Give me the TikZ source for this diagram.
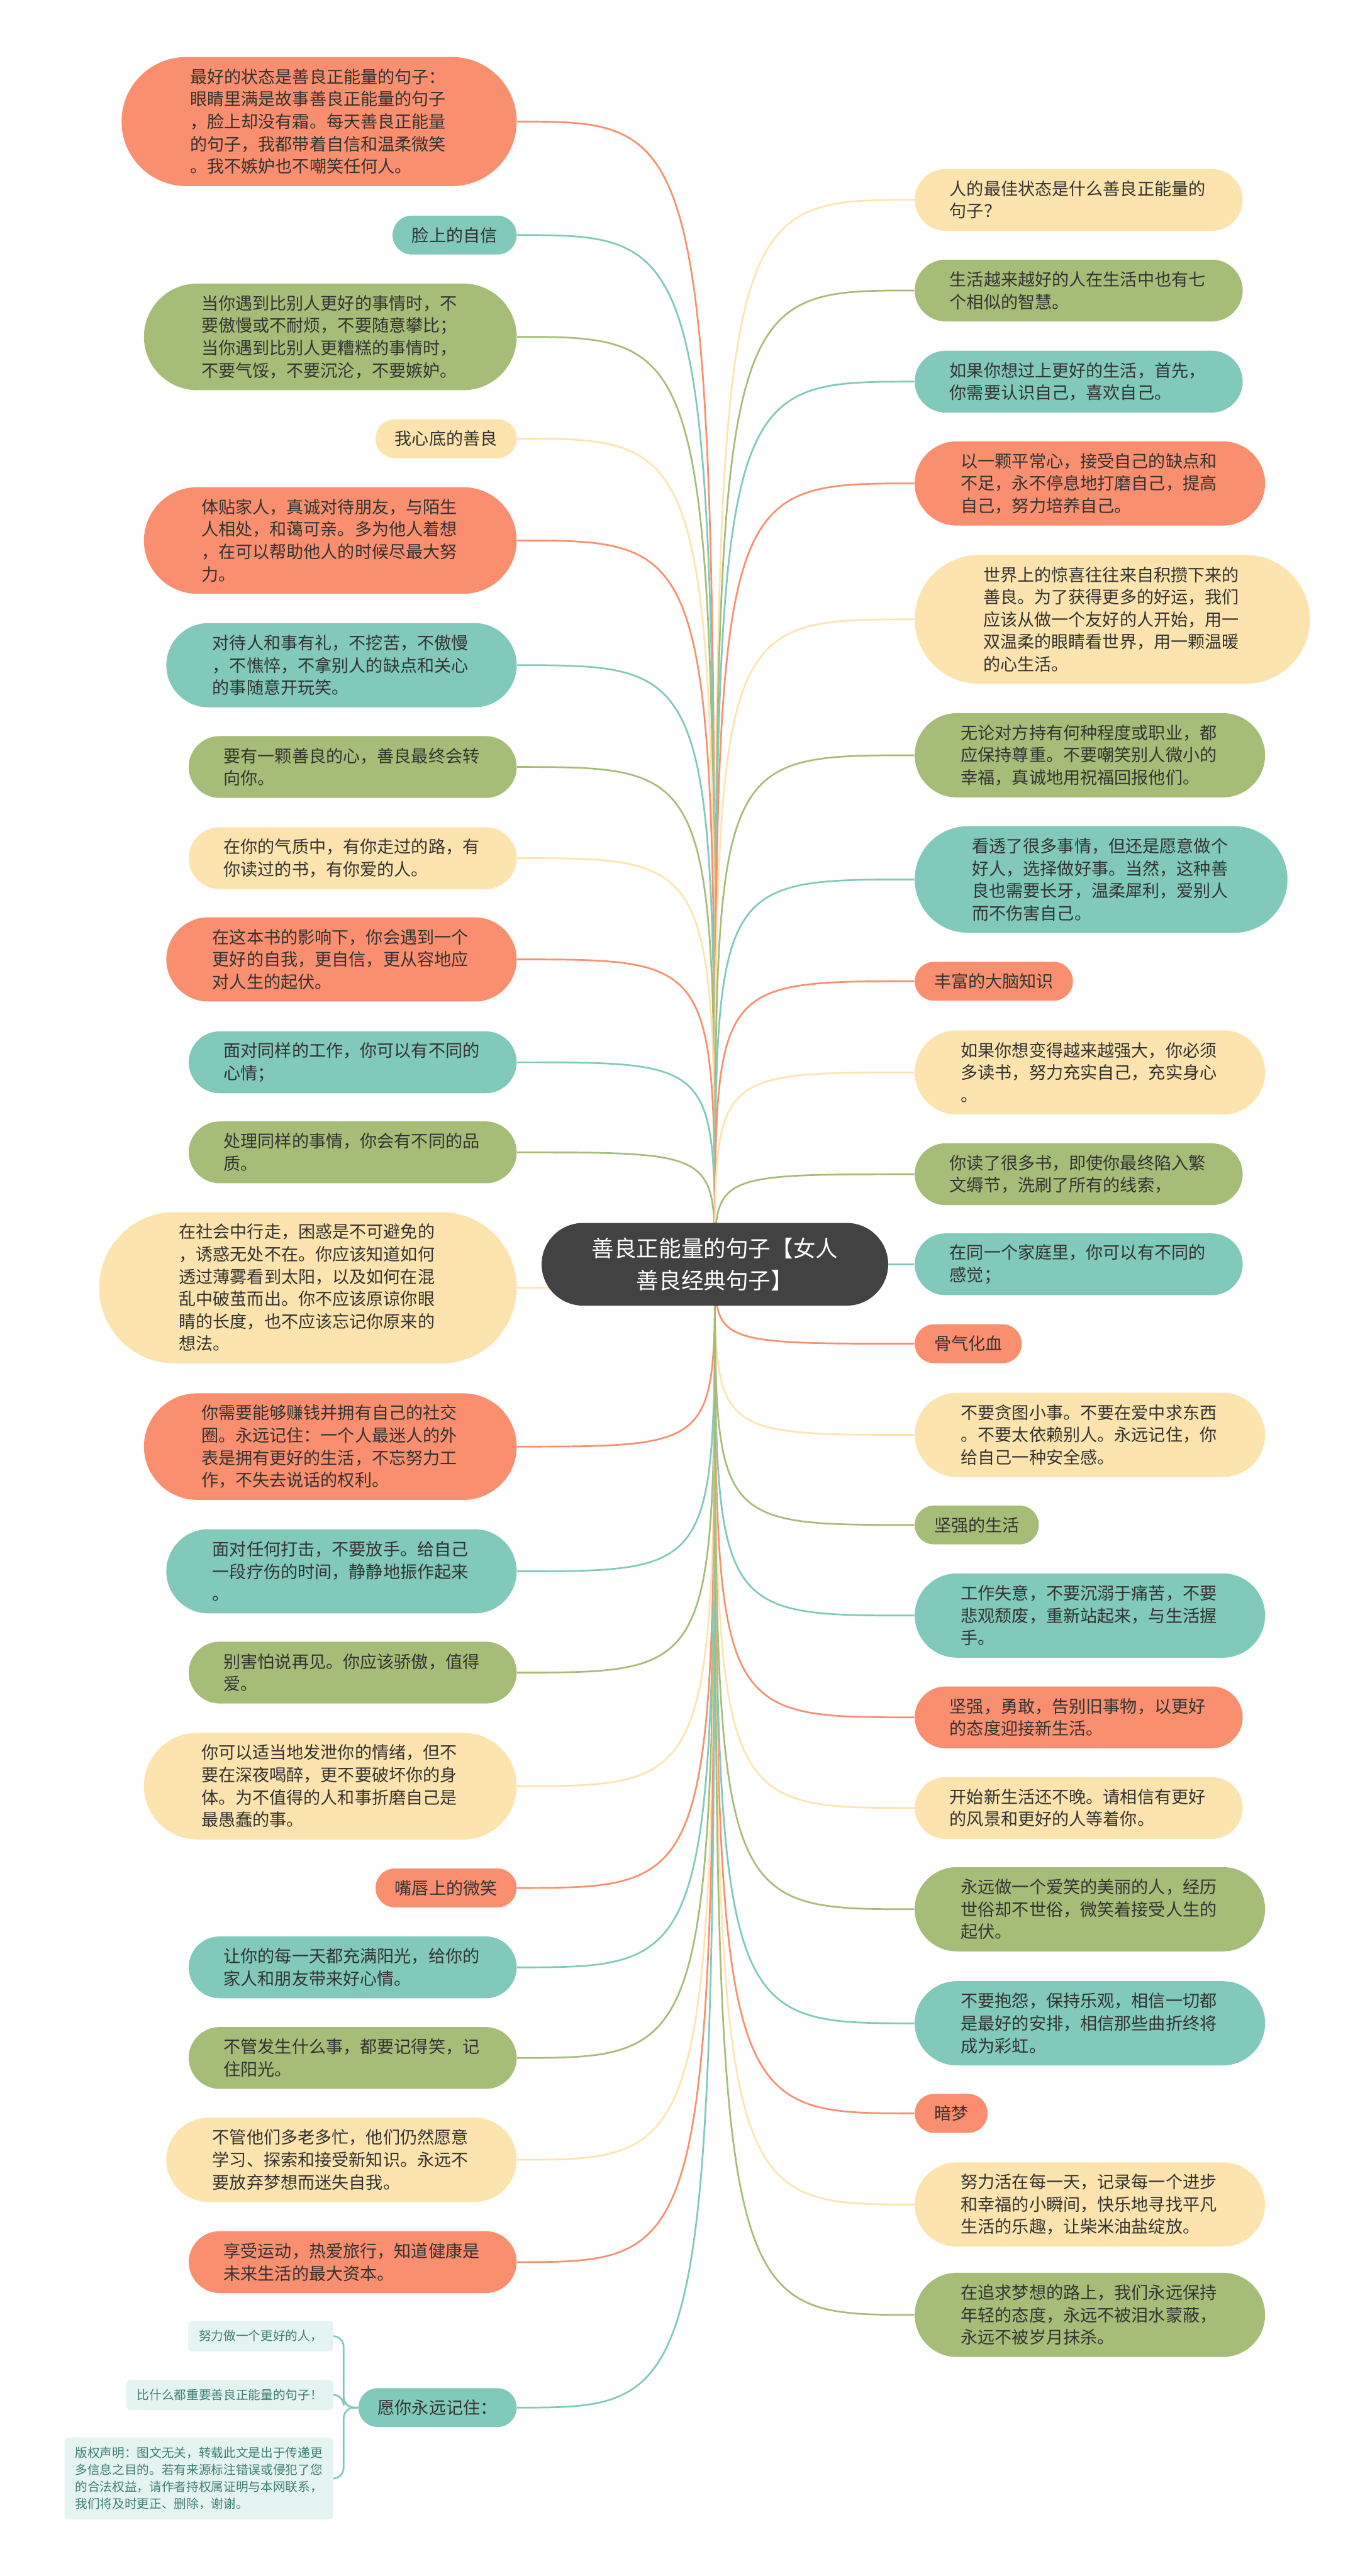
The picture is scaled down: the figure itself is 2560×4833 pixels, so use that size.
\documentclass[tikz,border=0pt]{standalone}
\usepackage{fontspec}
\setmainfont{Noto Sans CJK SC}
\usetikzlibrary{backgrounds}

\definecolor{cOrange}{HTML}{F98F6F}
\definecolor{cGreen}{HTML}{A6BD78}
\definecolor{cTeal}{HTML}{80C9BB}
\definecolor{cYellow}{HTML}{FDE4AE}
\definecolor{cHub}{HTML}{424242}
\definecolor{cNote}{HTML}{E4F4F1}
\definecolor{cNoteText}{HTML}{3E7F75}
\definecolor{cInk}{HTML}{333333}

\begin{document}
\begin{tikzpicture}[
    x=0.25pt, y=-0.25pt,
    every node/.style={font=\fontsize{8pt}{10.5pt}\selectfont, text=cInk},
    leaf/.style 2 args={rectangle, fill=#1, align=left, text width=121pt, inner ysep=0pt,
                 minimum height=#2*10.5pt+8pt, rounded corners=#2*5.25pt+4pt,
                 inner xsep=#2*5.25pt+5.9pt},
    topic/.style={rectangle, fill=#1, inner ysep=0pt, minimum height=18.25pt,
                  rounded corners=9.1pt, inner xsep=9.1pt},
    hub/.style={rectangle, fill=cHub, text=white, align=center,
                font=\fontsize{10.5pt}{15pt}\selectfont, inner ysep=0pt,
                minimum height=38.75pt, rounded corners=19.4pt, inner xsep=23.5pt},
    note/.style={rectangle, rounded corners=2pt, fill=cNote, text=cNoteText, align=left,
                 font=\fontsize{5.8pt}{8pt}\selectfont, inner xsep=5pt, inner ysep=4.4pt},
    wire/.style={draw=#1, line width=0.8pt}
]
\useasboundingbox (0,0) rectangle (2560,4833);

% centre
\node[hub] (hub) at (1341,2372) {善良正能量的句子【女人\\善良经典句子】};

% left side
\node[leaf={cOrange}{5}, anchor=east] (l1) at (970,228) {最好的状态是善良正能量的句子：\\眼睛里满是故事善良正能量的句子\\，脸上却没有霜。每天善良正能量\\的句子，我都带着自信和温柔微笑\\。我不嫉妒也不嘲笑任何人。};
\node[topic=cTeal, anchor=east] (l2) at (970,441) {脸上的自信};
\node[leaf={cGreen}{4}, anchor=east] (l3) at (970,632) {当你遇到比别人更好的事情时，不\\要傲慢或不耐烦，不要随意攀比；\\当你遇到比别人更糟糕的事情时，\\不要气馁，不要沉沦，不要嫉妒。};
\node[topic=cYellow, anchor=east] (l4) at (970,823) {我心底的善良};
\node[leaf={cOrange}{4}, anchor=east] (l5) at (970,1014) {体贴家人，真诚对待朋友，与陌生\\人相处，和蔼可亲。多为他人着想\\，在可以帮助他人的时候尽最大努\\力。};
\node[leaf={cTeal}{3}, anchor=east] (l6) at (970,1248) {对待人和事有礼，不挖苦，不傲慢\\，不憔悴，不拿别人的缺点和关心\\的事随意开玩笑。};
\node[leaf={cGreen}{2}, anchor=east] (l7) at (970,1439) {要有一颗善良的心，善良最终会转\\向你。};
\node[leaf={cYellow}{2}, anchor=east] (l8) at (970,1610) {在你的气质中，有你走过的路，有\\你读过的书，有你爱的人。};
\node[leaf={cOrange}{3}, anchor=east] (l9) at (970,1800) {在这本书的影响下，你会遇到一个\\更好的自我，更自信，更从容地应\\对人生的起伏。};
\node[leaf={cTeal}{2}, anchor=east] (l10) at (970,1993) {面对同样的工作，你可以有不同的\\心情；};
\node[leaf={cGreen}{2}, anchor=east] (l11) at (970,2162) {处理同样的事情，你会有不同的品\\质。};
\node[leaf={cYellow}{6}, anchor=east] (l12) at (970,2416) {在社会中行走，困惑是不可避免的\\，诱惑无处不在。你应该知道如何\\透过薄雾看到太阳，以及如何在混\\乱中破茧而出。你不应该原谅你眼\\睛的长度，也不应该忘记你原来的\\想法。};
\node[leaf={cOrange}{4}, anchor=east] (l13) at (970,2714) {你需要能够赚钱并拥有自己的社交\\圈。永远记住：一个人最迷人的外\\表是拥有更好的生活，不忘努力工\\作，不失去说话的权利。};
\node[leaf={cTeal}{3}, anchor=east] (l14) at (970,2948) {面对任何打击，不要放手。给自己\\一段疗伤的时间，静静地振作起来\\。};
\node[leaf={cGreen}{2}, anchor=east] (l15) at (970,3138) {别害怕说再见。你应该骄傲，值得\\爱。};
\node[leaf={cYellow}{4}, anchor=east] (l16) at (970,3351) {你可以适当地发泄你的情绪，但不\\要在深夜喝醉，更不要破坏你的身\\体。为不值得的人和事折磨自己是\\最愚蠢的事。};
\node[topic=cOrange, anchor=east] (l17) at (970,3542) {嘴唇上的微笑};
\node[leaf={cTeal}{2}, anchor=east] (l18) at (970,3691) {让你的每一天都充满阳光，给你的\\家人和朋友带来好心情。};
\node[leaf={cGreen}{2}, anchor=east] (l19) at (970,3861) {不管发生什么事，都要记得笑，记\\住阳光。};
\node[leaf={cYellow}{3}, anchor=east] (l20) at (970,4052) {不管他们多老多忙，他们仍然愿意\\学习、探索和接受新知识。永远不\\要放弃梦想而迷失自我。};
\node[leaf={cOrange}{2}, anchor=east] (l21) at (970,4244) {享受运动，热爱旅行，知道健康是\\未来生活的最大资本。};
\node[topic=cTeal, anchor=east] (l22) at (970,4517) {愿你永远记住：};

% notes under l22
\node[note, anchor=east] (c1) at (626,4383) {努力做一个更好的人，};
\node[note, anchor=east] (c2) at (626,4493) {比什么都重要善良正能量的句子！};
\node[note, anchor=east] (c3) at (626,4650) {版权声明：图文无关，转载此文是出于传递更\\多信息之目的。若有来源标注错误或侵犯了您\\的合法权益，请作者持权属证明与本网联系，\\我们将及时更正、删除，谢谢。};

% right side
\node[leaf={cYellow}{2}, anchor=west] (r1) at (1715,375) {人的最佳状态是什么善良正能量的\\句子？};
\node[leaf={cGreen}{2}, anchor=west] (r2) at (1715,545) {生活越来越好的人在生活中也有七\\个相似的智慧。};
\node[leaf={cTeal}{2}, anchor=west] (r3) at (1715,716) {如果你想过上更好的生活，首先，\\你需要认识自己，喜欢自己。};
\node[leaf={cOrange}{3}, anchor=west] (r4) at (1715,907) {以一颗平常心，接受自己的缺点和\\不足，永不停息地打磨自己，提高\\自己，努力培养自己。};
\node[leaf={cYellow}{5}, anchor=west] (r5) at (1715,1162) {世界上的惊喜往往来自积攒下来的\\善良。为了获得更多的好运，我们\\应该从做一个友好的人开始，用一\\双温柔的眼睛看世界，用一颗温暖\\的心生活。};
\node[leaf={cGreen}{3}, anchor=west] (r6) at (1715,1417) {无论对方持有何种程度或职业，都\\应保持尊重。不要嘲笑别人微小的\\幸福，真诚地用祝福回报他们。};
\node[leaf={cTeal}{4}, anchor=west] (r7) at (1715,1650) {看透了很多事情，但还是愿意做个\\好人，选择做好事。当然，这种善\\良也需要长牙，温柔犀利，爱别人\\而不伤害自己。};
\node[topic=cOrange, anchor=west] (r8) at (1715,1841) {丰富的大脑知识};
\node[leaf={cYellow}{3}, anchor=west] (r9) at (1715,2012) {如果你想变得越来越强大，你必须\\多读书，努力充实自己，充实身心\\。};
\node[leaf={cGreen}{2}, anchor=west] (r10) at (1715,2203) {你读了很多书，即使你最终陷入繁\\文缛节，洗刷了所有的线索，};
\node[leaf={cTeal}{2}, anchor=west] (r11) at (1715,2372) {在同一个家庭里，你可以有不同的\\感觉；};
\node[topic=cOrange, anchor=west] (r12) at (1715,2521) {骨气化血};
\node[leaf={cYellow}{3}, anchor=west] (r13) at (1715,2692) {不要贪图小事。不要在爱中求东西\\。不要太依赖别人。永远记住，你\\给自己一种安全感。};
\node[topic=cGreen, anchor=west] (r14) at (1715,2861) {坚强的生活};
\node[leaf={cTeal}{3}, anchor=west] (r15) at (1715,3031) {工作失意，不要沉溺于痛苦，不要\\悲观颓废，重新站起来，与生活握\\手。};
\node[leaf={cOrange}{2}, anchor=west] (r16) at (1715,3222) {坚强，勇敢，告别旧事物，以更好\\的态度迎接新生活。};
\node[leaf={cYellow}{2}, anchor=west] (r17) at (1715,3392) {开始新生活还不晚。请相信有更好\\的风景和更好的人等着你。};
\node[leaf={cGreen}{3}, anchor=west] (r18) at (1715,3582) {永远做一个爱笑的美丽的人，经历\\世俗却不世俗，微笑着接受人生的\\起伏。};
\node[leaf={cTeal}{3}, anchor=west] (r19) at (1715,3796) {不要抱怨，保持乐观，相信一切都\\是最好的安排，相信那些曲折终将\\成为彩虹。};
\node[topic=cOrange, anchor=west] (r20) at (1715,3965) {暗梦};
\node[leaf={cYellow}{3}, anchor=west] (r21) at (1715,4136) {努力活在每一天，记录每一个进步\\和幸福的小瞬间，快乐地寻找平凡\\生活的乐趣，让柴米油盐绽放。};
\node[leaf={cGreen}{3}, anchor=west] (r22) at (1715,4343) {在追求梦想的路上，我们永远保持\\年轻的态度，永远不被泪水蒙蔽，\\永远不被岁月抹杀。};

\begin{scope}[on background layer]
\fill[white] (0,0) rectangle (2560,4833);
% branches to the left
\draw[wire=cOrange] (hub.center) .. controls (hub.center |- l1.east) .. (l1.east);
\draw[wire=cTeal] (hub.center) .. controls (hub.center |- l2.east) .. (l2.east);
\draw[wire=cGreen] (hub.center) .. controls (hub.center |- l3.east) .. (l3.east);
\draw[wire=cYellow] (hub.center) .. controls (hub.center |- l4.east) .. (l4.east);
\draw[wire=cOrange] (hub.center) .. controls (hub.center |- l5.east) .. (l5.east);
\draw[wire=cTeal] (hub.center) .. controls (hub.center |- l6.east) .. (l6.east);
\draw[wire=cGreen] (hub.center) .. controls (hub.center |- l7.east) .. (l7.east);
\draw[wire=cYellow] (hub.center) .. controls (hub.center |- l8.east) .. (l8.east);
\draw[wire=cOrange] (hub.center) .. controls (hub.center |- l9.east) .. (l9.east);
\draw[wire=cTeal] (hub.center) .. controls (hub.center |- l10.east) .. (l10.east);
\draw[wire=cGreen] (hub.center) .. controls (hub.center |- l11.east) .. (l11.east);
\draw[wire=cYellow] (hub.center) .. controls (hub.center |- l12.east) .. (l12.east);
\draw[wire=cOrange] (hub.center) .. controls (hub.center |- l13.east) .. (l13.east);
\draw[wire=cTeal] (hub.center) .. controls (hub.center |- l14.east) .. (l14.east);
\draw[wire=cGreen] (hub.center) .. controls (hub.center |- l15.east) .. (l15.east);
\draw[wire=cYellow] (hub.center) .. controls (hub.center |- l16.east) .. (l16.east);
\draw[wire=cOrange] (hub.center) .. controls (hub.center |- l17.east) .. (l17.east);
\draw[wire=cTeal] (hub.center) .. controls (hub.center |- l18.east) .. (l18.east);
\draw[wire=cGreen] (hub.center) .. controls (hub.center |- l19.east) .. (l19.east);
\draw[wire=cYellow] (hub.center) .. controls (hub.center |- l20.east) .. (l20.east);
\draw[wire=cOrange] (hub.center) .. controls (hub.center |- l21.east) .. (l21.east);
\draw[wire=cTeal] (hub.center) .. controls (hub.center |- l22.east) .. (l22.east);
% branches to the right
\draw[wire=cYellow] (hub.center) .. controls (hub.center |- r1.west) .. (r1.west);
\draw[wire=cGreen] (hub.center) .. controls (hub.center |- r2.west) .. (r2.west);
\draw[wire=cTeal] (hub.center) .. controls (hub.center |- r3.west) .. (r3.west);
\draw[wire=cOrange] (hub.center) .. controls (hub.center |- r4.west) .. (r4.west);
\draw[wire=cYellow] (hub.center) .. controls (hub.center |- r5.west) .. (r5.west);
\draw[wire=cGreen] (hub.center) .. controls (hub.center |- r6.west) .. (r6.west);
\draw[wire=cTeal] (hub.center) .. controls (hub.center |- r7.west) .. (r7.west);
\draw[wire=cOrange] (hub.center) .. controls (hub.center |- r8.west) .. (r8.west);
\draw[wire=cYellow] (hub.center) .. controls (hub.center |- r9.west) .. (r9.west);
\draw[wire=cGreen] (hub.center) .. controls (hub.center |- r10.west) .. (r10.west);
\draw[wire=cTeal] (hub.center) .. controls (hub.center |- r11.west) .. (r11.west);
\draw[wire=cOrange] (hub.center) .. controls (hub.center |- r12.west) .. (r12.west);
\draw[wire=cYellow] (hub.center) .. controls (hub.center |- r13.west) .. (r13.west);
\draw[wire=cGreen] (hub.center) .. controls (hub.center |- r14.west) .. (r14.west);
\draw[wire=cTeal] (hub.center) .. controls (hub.center |- r15.west) .. (r15.west);
\draw[wire=cOrange] (hub.center) .. controls (hub.center |- r16.west) .. (r16.west);
\draw[wire=cYellow] (hub.center) .. controls (hub.center |- r17.west) .. (r17.west);
\draw[wire=cGreen] (hub.center) .. controls (hub.center |- r18.west) .. (r18.west);
\draw[wire=cTeal] (hub.center) .. controls (hub.center |- r19.west) .. (r19.west);
\draw[wire=cOrange] (hub.center) .. controls (hub.center |- r20.west) .. (r20.west);
\draw[wire=cYellow] (hub.center) .. controls (hub.center |- r21.west) .. (r21.west);
\draw[wire=cGreen] (hub.center) .. controls (hub.center |- r22.west) .. (r22.west);
% notes
\draw[wire=cTeal, rounded corners=5pt] (l22.west) -- ++(-27,0) |- (c1.east);
\draw[wire=cTeal, rounded corners=5pt] (l22.west) -- ++(-27,0) |- (c2.east);
\draw[wire=cTeal, rounded corners=5pt] (l22.west) -- ++(-27,0) |- (c3.east);
\end{scope}
\end{tikzpicture}
\end{document}
